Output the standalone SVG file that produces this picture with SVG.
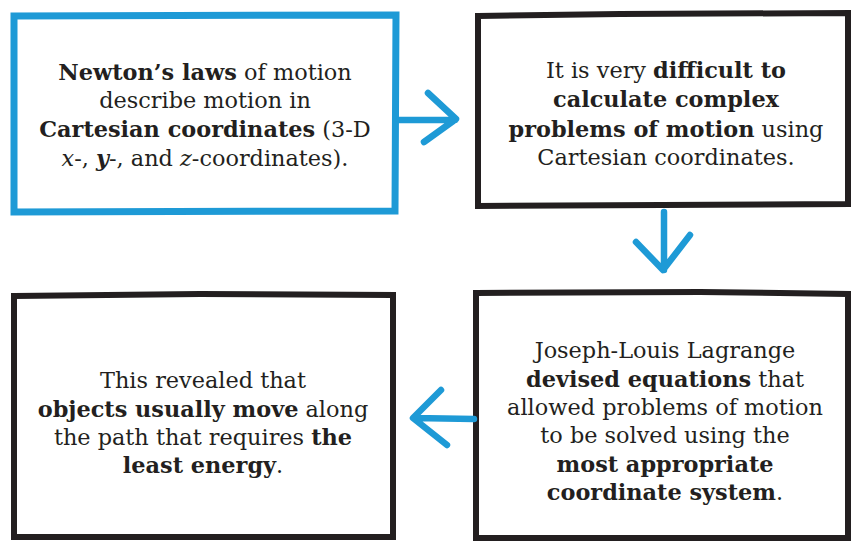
<svg xmlns="http://www.w3.org/2000/svg" width="853" height="543" viewBox="0 0 853 543">
<style>
.box{fill:#fff;stroke:#231f20;stroke-width:6;stroke-linejoin:miter}
.blue{stroke:#1e9ad6;stroke-width:7}
.t{font-family:"DejaVu Serif","Liberation Serif",serif;font-size:22.4px;fill:#231f20;text-anchor:middle;font-weight:300}
.b{font-weight:bold}
.i{font-style:italic}
.arr{fill:none;stroke:#1e9ad6;stroke-width:6.5;stroke-linecap:round;stroke-linejoin:round}
</style>
<rect width="853" height="543" fill="#fff"/>
<g id="node1">
<path class="box blue" d="M14 16 L396 15 L395 211 L14 212 Z"/>
<text class="t" x="205" y="80"><tspan class="b">Newton’s laws</tspan> of motion</text>
<text class="t" x="205" y="108">describe motion in</text>
<text class="t" x="205" y="137"><tspan class="b">Cartesian coordinates</tspan> (3-D</text>
<text class="t" x="205" y="166"><tspan class="i">x</tspan>-, <tspan class="i b">y</tspan>-, and <tspan class="i">z</tspan>-coordinates).</text>
</g>
<g id="node2">
<path class="box" d="M478 16 L620 14 L848 13 L848 204 L478 206 Z"/>
<text class="t" x="666" y="78">It is very <tspan class="b">difficult to</tspan></text>
<text class="t b" x="666" y="107">calculate complex</text>
<text class="t" x="666" y="137"><tspan class="b">problems of motion</tspan> using</text>
<text class="t" x="666" y="165">Cartesian coordinates.</text>
</g>
<g id="node3">
<path class="box" d="M14 296 L200 294 L393 295 L393 537 L14 537 Z"/>
<text class="t" x="203" y="388">This revealed that</text>
<text class="t" x="203" y="417"><tspan class="b">objects usually move</tspan> along</text>
<text class="t" x="203" y="445">the path that requires <tspan class="b">the</tspan></text>
<text class="t" x="203" y="473"><tspan class="b">least energy</tspan>.</text>
</g>
<g id="node4">
<path class="box" d="M476 293 L700 292 L848 294 L848 538 L476 538 Z"/>
<text class="t" x="665" y="358">Joseph-Louis Lagrange</text>
<text class="t" x="665" y="387"><tspan class="b">devised equations</tspan> that</text>
<text class="t" x="665" y="415">allowed problems of motion</text>
<text class="t" x="665" y="443">to be solved using the</text>
<text class="t b" x="665" y="472">most appropriate</text>
<text class="t" x="665" y="500"><tspan class="b">coordinate system</tspan>.</text>
</g>
<g id="connectors">
<path class="arr" d="M399 120 L455 120 M428 93 L456 119 L424 142"/>
<path class="arr" d="M664 212 L664 270 M636 242 L663 270 L690 235"/>
<path class="arr" d="M474 419 L414 418 M441 390 L413 418 L447 445"/>
</g>
</svg>
